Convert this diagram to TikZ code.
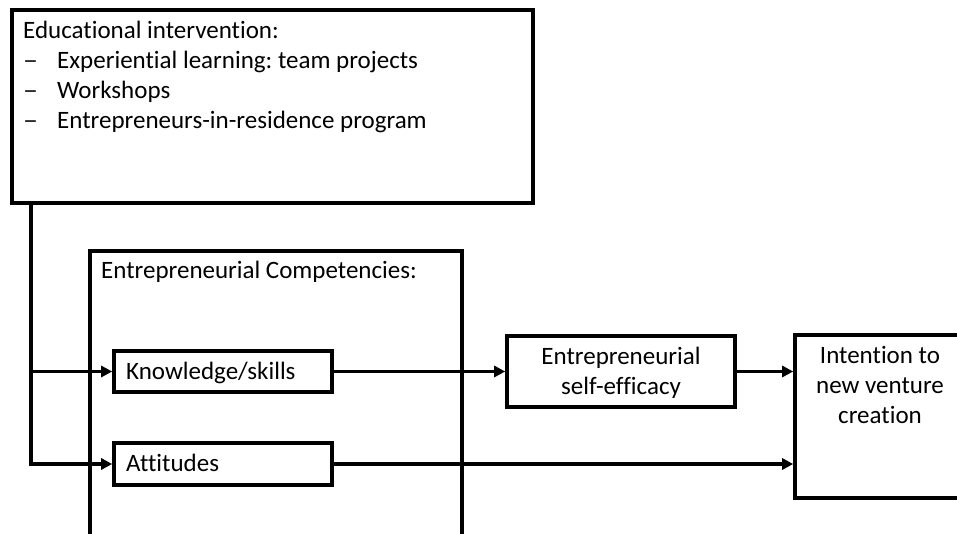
\documentclass[tikz,border=0pt]{standalone}
\usepackage{fontspec}
\setmainfont{Carlito}[Ligatures=NoCommon]
\usetikzlibrary{arrows.meta}
\frenchspacing
\begin{document}
\begin{tikzpicture}[x=1pt,y=-1pt,
  box/.style={draw, line width=3.6pt, inner sep=0pt},
  txt/.style={font=\fontsize{25}{30}\selectfont, inner sep=0pt},
  ln/.style={line width=3.6pt},
  arr/.style={line width=3.6pt, -{Triangle[length=11pt,width=11pt]}}]
\useasboundingbox (0,0) rectangle (957,533);
\clip (0,0) rectangle (957,533);
% boxes
\node[box, minimum width=521pt, minimum height=193pt] (edu) at (272.5,106.5) {};
\node[box, minimum width=372pt, minimum height=309pt] (comp) at (276,405.5) {};
\node[box, minimum width=218pt, minimum height=41pt] (ks) at (223,371.5) {};
\node[box, minimum width=218pt, minimum height=42pt] (att) at (223,464) {};
\node[box, minimum width=228pt, minimum height=71pt] (se) at (621,371.5) {};
\node[box, minimum width=205pt, minimum height=163pt] (int) at (897.5,416.5) {};
% texts
\node[txt, anchor=base west] (t0) at (23,38) {Educational intervention:};
\node[txt, anchor=base west] (d1) at (23,68) {\scalebox{1.2}[1]{–}};
\node[txt, anchor=base west] (t1) at (57,68) {Experiential learning: team projects};
\node[txt, anchor=base west] (d2) at (23,98) {\scalebox{1.2}[1]{–}};
\node[txt, anchor=base west] (t2) at (57,98) {Workshops};
\node[txt, anchor=base west] (d3) at (23,128) {\scalebox{1.2}[1]{–}};
\node[txt, anchor=base west] (t3) at (57,128) {Entrepreneurs-in-residence program};
\node[txt, anchor=base west] (tc) at (101,278) {Entrepreneurial Competencies:};
\node[txt, anchor=base west] (tks) at (126,379) {Knowledge/skills};
\node[txt, anchor=base west] (tatt) at (126,471) {Attitudes};
\node[txt, anchor=base] (tse1) at (621,364) {Entrepreneurial};
\node[txt, anchor=base] (tse2) at (621,394) {self-efficacy};
\node[txt, anchor=base] (ti1) at (880,363) {Intention to};
\node[txt, anchor=base] (ti2) at (880,393) {new venture};
\node[txt, anchor=base] (ti3) at (880,423) {creation};
% connectors
\coordinate (j) at (31,371.5);
\coordinate (c) at (31,464);
\draw[ln] (j |- edu.south) -- (j);
\draw[arr] (j) -- (c) -- (att.west);
\draw[arr] (j) -- (ks.west);
\draw[arr] (ks.east) -- (se.west);
\draw[arr] (se.east) -- (int.west |- se.east);
\draw[arr] (att.east) -- (int.west |- att.east);
\end{tikzpicture}
\end{document}
